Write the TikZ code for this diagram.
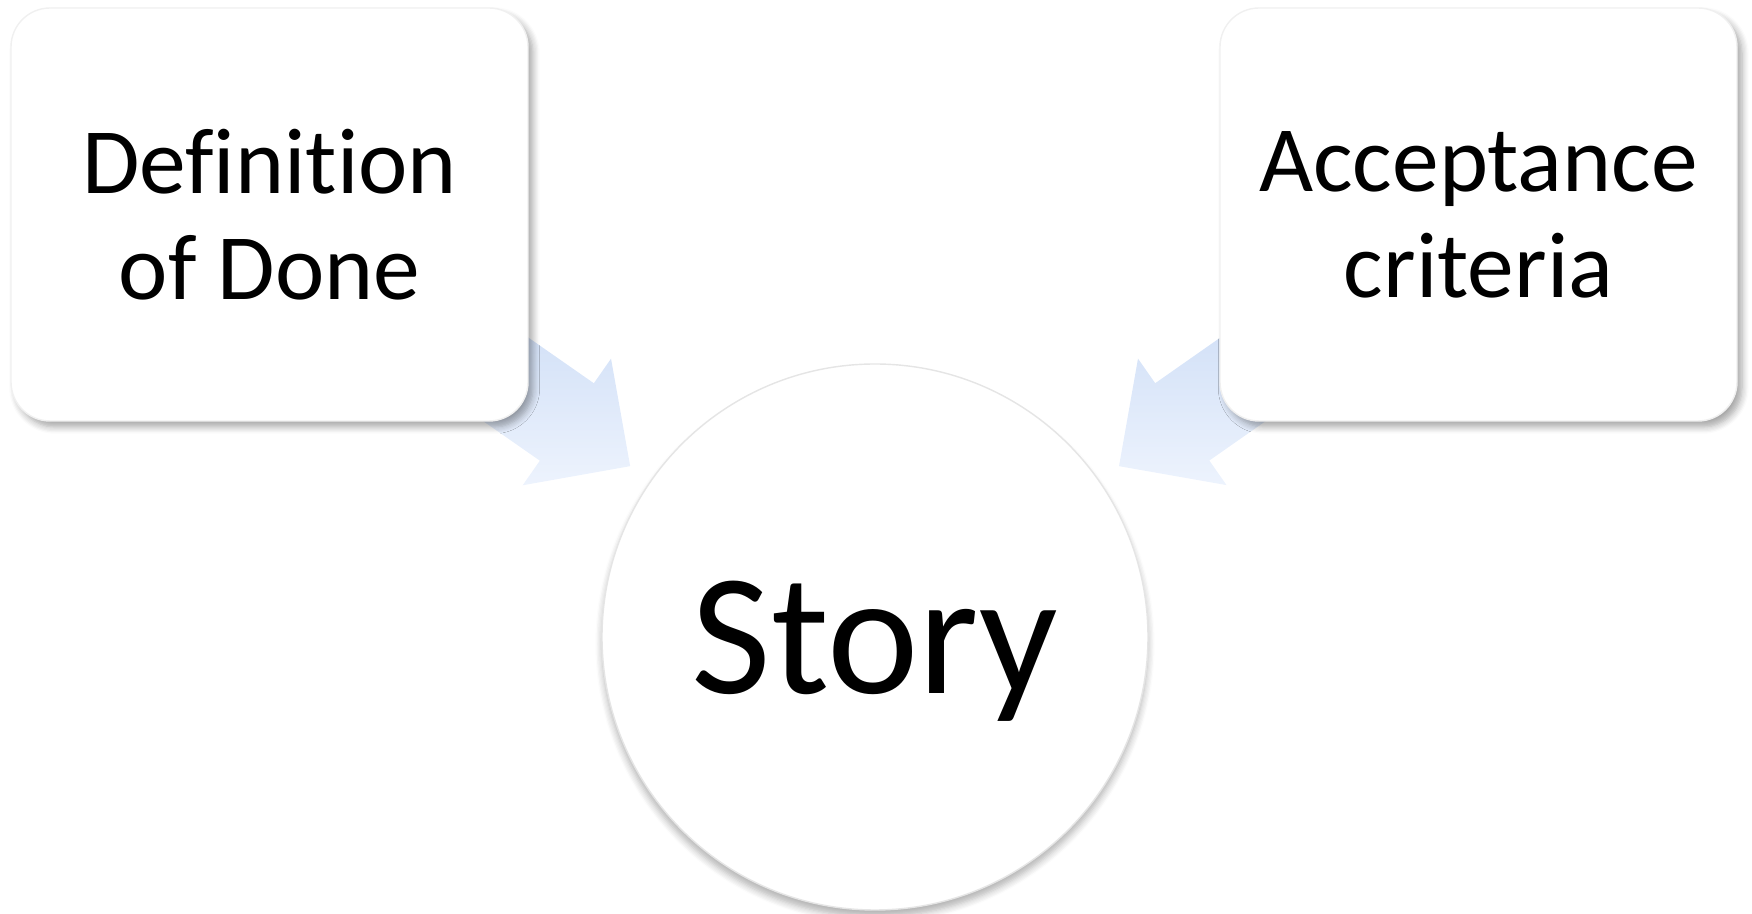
\documentclass[tikz,border=0pt]{standalone}
\usepackage{fontspec}
\setmainfont{Carlito}[Ligatures={NoCommon,NoRare,NoContextual}]
\usetikzlibrary{shapes.arrows,shadows.blur,backgrounds}
\definecolor{arrowdark}{HTML}{C3D6F4}
\definecolor{arrowlight}{HTML}{EDF3FD}

\begin{document}
\begin{tikzpicture}
[x=0.1mm,y=0.1mm,
	card/.style={rectangle,rounded corners=3.9mm,fill=white,draw=black!6,minimum width=51.7mm,minimum height=41.3mm,align=center,
		font=\fontsize{26.6}{30.2}\selectfont,blur shadow={shadow xshift=0.5mm,shadow yshift=-0.6mm,shadow blur steps=6,shadow opacity=35}},
	storycircle/.style={circle,fill=white,draw=black!10,minimum size=54.6mm,inner sep=0pt,text depth=0pt,
		font=\fontsize{49.3}{55}\selectfont,blur shadow={shadow xshift=0mm,shadow yshift=-0.7mm,shadow blur steps=6,shadow opacity=30}},
	flowarrow/.style={single arrow,minimum height=33mm,minimum width=15.3mm,single arrow head extend=3mm,inner xsep=0pt,inner ysep=4.65mm,
		sloped,allow upside down,anchor=tip,top color=arrowdark,bottom color=arrowlight,draw=none}]

\useasboundingbox (0,0) rectangle (1752,914);

% the three parts
\node[card] (dod) at (269.5,699.5) {Definition\\of Done};
\node[card] (acc) at (1478.5,699.5) {Acceptance\\criteria};
\node[storycircle] (story) at (875,277) {Story};

% arrows behind the parts
\begin{pgfonlayer}{background}
\path (dod.center) -- (story.center) node[flowarrow,pos=0.597] {};
\path (acc.center) -- (story.center) node[flowarrow,pos=0.597] {};
\end{pgfonlayer}
\end{tikzpicture}
\end{document}
